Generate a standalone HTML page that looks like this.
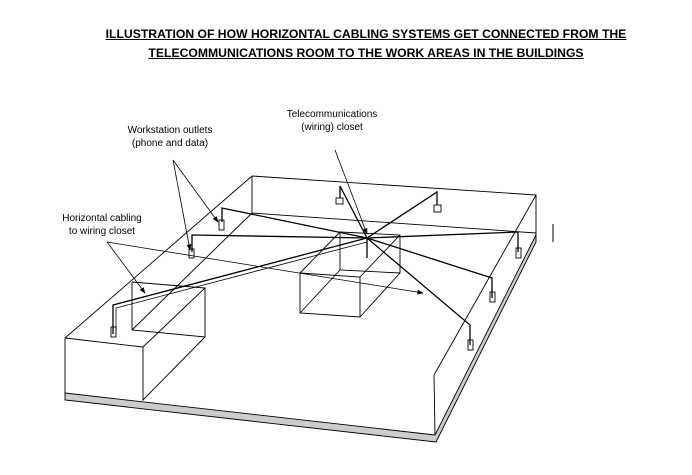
<!DOCTYPE html>
<html><head><style>
html,body{margin:0;padding:0;background:#fff;}
.t{position:absolute;left:0;width:692px;text-align:center;font-family:"Liberation Sans",sans-serif;font-weight:bold;font-size:12.2px;text-decoration:underline;}
</style></head><body>
<div style="position:relative;width:692px;height:475px;overflow:hidden">
<div class="t" style="top:27px;left:20px">ILLUSTRATION OF HOW HORIZONTAL CABLING SYSTEMS GET CONNECTED FROM THE</div>
<div class="t" style="top:46px;left:20px">TELECOMMUNICATIONS ROOM TO THE WORK AREAS IN THE BUILDINGS</div>
<svg width="692" height="475" style="position:absolute;left:0;top:0" font-family="Liberation Sans, sans-serif" font-size="10">
<defs><marker id="a" markerWidth="8" markerHeight="6" refX="7" refY="3" orient="auto"><path d="M0,0 L8,3 L0,6 z" fill="#000"/></marker></defs>
<g fill="none" stroke="#000" stroke-width="0.9">
<!-- slab -->
<path d="M65,393 L435,435 L536,235 L536,242 L436,442 L65,400 Z" fill="#ccc"/>
<!-- outer outline -->
<path d="M65,338 L252,176 L536,195 L434,375"/>
<path d="M65,338 L65,393 M434,375 L435,435 M536,195 L536,235"/>
<path d="M252,176 L252,213 L536,233"/>
<path d="M252,213 L132,330"/>
<!-- left box -->
<path d="M132,282 L205,288 L143,347 L65,338"/>
<path d="M132,282 L132,330 L205,337 L205,288 M205,337 L143,400 L143,347"/>
<!-- center box -->
<path d="M300,273 L360,277 L360,317 L300,313 Z"/>
<path d="M340,232 L400,235 L400,273 L340,270 Z"/>
<path d="M300,273 L340,232 M360,277 L400,235 M360,317 L400,273 M300,313 L340,270"/>
<!-- cables from hub -->
<g stroke-width="1.3">
<path d="M367,238 L437,192 L437,205"/>
<path d="M367,238 L340,186 L340,198"/>
<path d="M367,238 L518,232 L518,252"/>
<path d="M367,238 L492,278 L492,298"/>
<path d="M367,238 L470,325 L470,345"/>
<path d="M367,238 L222,208 L222,222"/>
<path d="M367,238 L192,235 L192,252"/>
<path d="M367,238 L113,305 L113,334"/>
<path d="M367,242 L116,308 L116,334" stroke-width="0.8"/>
<path d="M367,238 L367,258"/>
</g>
<!-- outlets -->
<rect x="336" y="198" width="7" height="6"/><rect x="434" y="205" width="7" height="7"/>
<rect x="516" y="248" width="5" height="10"/><rect x="490" y="292" width="5" height="10"/>
<rect x="468" y="340" width="5" height="10"/><rect x="219" y="220" width="5" height="10"/>
<rect x="189" y="249" width="5" height="9"/><rect x="111" y="327" width="5" height="10"/>
<!-- leaders -->
<g stroke-width="0.8">
<path d="M173,160 L190,250" marker-end="url(#a)"/>
<path d="M173,160 L218,222" marker-end="url(#a)"/>
<path d="M335,150 L367,234" marker-end="url(#a)"/>
<path d="M107,242 L145,293" marker-end="url(#a)"/>
<path d="M107,242 L423,293" marker-end="url(#a)"/>
</g>
<path d="M553,224 L553,242" stroke-width="1"/>
</g>
<g fill="#000" text-anchor="middle">
<text x="170" y="133">Workstation outlets</text>
<text x="170" y="146">(phone and data)</text>
<text x="332" y="117">Telecommunications</text>
<text x="332" y="130">(wiring) closet</text>
<text x="102" y="221">Horizontal cabling</text>
<text x="102" y="234">to wiring closet</text>
</g>
</svg>
</div>
</body></html>
